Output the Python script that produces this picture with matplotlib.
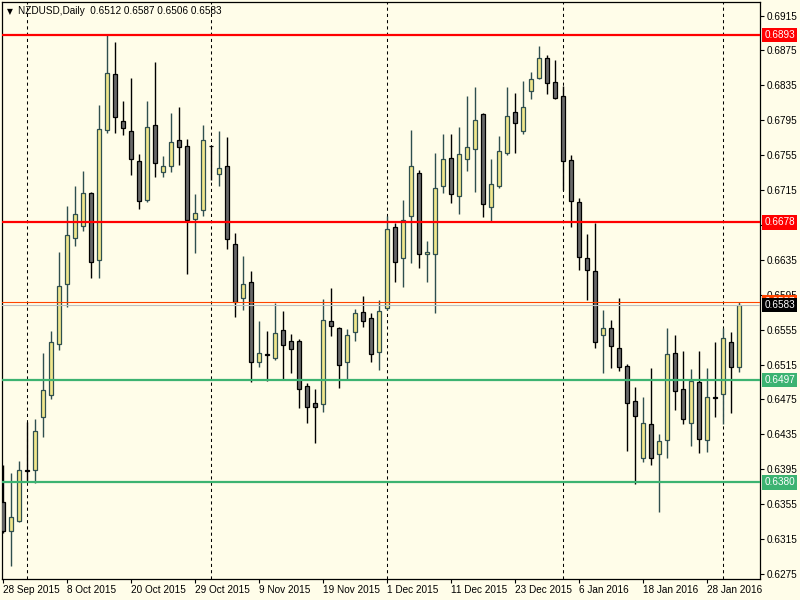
import matplotlib
matplotlib.use("Agg")
import matplotlib.pyplot as plt
from matplotlib.patches import Rectangle

# ---------------- data ----------------
opens = [0.6358, 0.6324, 0.6336, 0.6394, 0.6394, 0.6455, 0.6480, 0.6539, 0.6607, 0.6660,
         0.6674, 0.6712, 0.6635, 0.6784, 0.6848, 0.6794, 0.6783, 0.6748, 0.6704, 0.6790,
         0.6736, 0.6743, 0.6772, 0.6766, 0.6682, 0.6692, 0.6766, 0.6733, 0.6743, 0.6653,
         0.6591, 0.6610, 0.6518, 0.6527, 0.6523, 0.6555, 0.6542, 0.6542, 0.6490, 0.6471,
         0.6470, 0.6565, 0.6557, 0.6518, 0.6552, 0.6575, 0.6568, 0.6529, 0.6580, 0.6673,
         0.6637, 0.6685, 0.6735, 0.6642, 0.6642, 0.6720, 0.6752, 0.6708, 0.6751, 0.6762,
         0.6802, 0.6696, 0.6720, 0.6758, 0.6804, 0.6783, 0.6829, 0.6843, 0.6866, 0.6839,
         0.6823, 0.6749, 0.6701, 0.6637, 0.6622, 0.6549, 0.6557, 0.6534, 0.6513, 0.6473,
         0.6408, 0.6447, 0.6413, 0.6429, 0.6528, 0.6487, 0.6448, 0.6495, 0.6429, 0.6478,
         0.6481, 0.6541, 0.6512]
highs = [0.6400, 0.6391, 0.6404, 0.6449, 0.6453, 0.6528, 0.6554, 0.6644, 0.6697, 0.6720,
         0.6737, 0.6713, 0.6812, 0.6894, 0.6885, 0.6817, 0.6843, 0.6756, 0.6817, 0.6862,
         0.6754, 0.6803, 0.6810, 0.6774, 0.6710, 0.6790, 0.6766, 0.6783, 0.6776, 0.6666,
         0.6639, 0.6622, 0.6565, 0.6554, 0.6586, 0.6576, 0.6550, 0.6544, 0.6494, 0.6487,
         0.6590, 0.6603, 0.6558, 0.6556, 0.6579, 0.6594, 0.6574, 0.6589, 0.6685, 0.6677,
         0.6704, 0.6784, 0.6738, 0.6657, 0.6757, 0.6779, 0.6779, 0.6787, 0.6823, 0.6833,
         0.6803, 0.6751, 0.6777, 0.6833, 0.6826, 0.6840, 0.6850, 0.6880, 0.6870, 0.6864,
         0.6834, 0.6755, 0.6706, 0.6665, 0.6677, 0.6578, 0.6566, 0.6591, 0.6516, 0.6489,
         0.6478, 0.6511, 0.6435, 0.6557, 0.6549, 0.6531, 0.6510, 0.6530, 0.6511, 0.6541,
         0.6557, 0.6552, 0.6587]
lows = [0.6322, 0.6284, 0.6335, 0.6380, 0.6379, 0.6432, 0.6476, 0.6532, 0.6581, 0.6651,
        0.6668, 0.6614, 0.6614, 0.6780, 0.6780, 0.6778, 0.6732, 0.6693, 0.6701, 0.6730,
        0.6730, 0.6736, 0.6744, 0.6619, 0.6643, 0.6685, 0.6727, 0.6720, 0.6647, 0.6570,
        0.6578, 0.6495, 0.6512, 0.6496, 0.6520, 0.6497, 0.6505, 0.6465, 0.6448, 0.6425,
        0.6461, 0.6548, 0.6488, 0.6498, 0.6542, 0.6558, 0.6518, 0.6509, 0.6578, 0.6610,
        0.6604, 0.6631, 0.6626, 0.6610, 0.6574, 0.6712, 0.6700, 0.6688, 0.6737, 0.6713,
        0.6684, 0.6678, 0.6717, 0.6755, 0.6758, 0.6779, 0.6819, 0.6842, 0.6825, 0.6819,
        0.6715, 0.6673, 0.6623, 0.6589, 0.6534, 0.6505, 0.6511, 0.6508, 0.6416, 0.6378,
        0.6403, 0.6400, 0.6346, 0.6408, 0.6463, 0.6447, 0.6422, 0.6414, 0.6415, 0.6455,
        0.6447, 0.6460, 0.6506]
closes = [0.6324, 0.6340, 0.6394, 0.6393, 0.6439, 0.6486, 0.6541, 0.6605, 0.6664, 0.6688,
          0.6712, 0.6633, 0.6785, 0.6849, 0.6799, 0.6786, 0.6751, 0.6702, 0.6787, 0.6746,
          0.6743, 0.6770, 0.6764, 0.6681, 0.6689, 0.6772, 0.6765, 0.6740, 0.6659, 0.6587,
          0.6607, 0.6518, 0.6528, 0.6526, 0.6551, 0.6537, 0.6533, 0.6487, 0.6466, 0.6466,
          0.6566, 0.6559, 0.6514, 0.6549, 0.6574, 0.6565, 0.6527, 0.6576, 0.6670, 0.6633,
          0.6681, 0.6743, 0.6642, 0.6644, 0.6717, 0.6751, 0.6710, 0.6756, 0.6764, 0.6795,
          0.6699, 0.6722, 0.6760, 0.6800, 0.6792, 0.6810, 0.6842, 0.6866, 0.6838, 0.6820,
          0.6748, 0.6702, 0.6638, 0.6623, 0.6541, 0.6557, 0.6536, 0.6512, 0.6471, 0.6456,
          0.6448, 0.6408, 0.6427, 0.6527, 0.6485, 0.6453, 0.6496, 0.6430, 0.6478, 0.6477,
          0.6546, 0.6512, 0.6583]

date_tick_positions = [0, 8, 16, 24, 32, 40, 48, 56, 64, 72, 80, 88]
date_tick_labels = ["28 Sep 2015", "8 Oct 2015", "20 Oct 2015", "29 Oct 2015",
                    "9 Nov 2015", "19 Nov 2015", "1 Dec 2015", "11 Dec 2015",
                    "23 Dec 2015", "6 Jan 2016", "18 Jan 2016", "28 Jan 2016"]
period_separators = [3, 26, 48, 70, 90]
price_ticks = [0.6275, 0.6315, 0.6355, 0.6395, 0.6435, 0.6475, 0.6515, 0.6555,
               0.6595, 0.6635, 0.6675, 0.6715, 0.6755, 0.6795, 0.6835, 0.6875, 0.6915]
resistance_levels = [0.6893, 0.6678]
support_levels = [0.6497, 0.6380]
ask_price = 0.6587
bid_price = 0.6583
title_text = "NZDUSD,Daily  0.6512 0.6587 0.6506 0.6583"

# ---------------- style ----------------
BG = "#FFFDE9"
BULL_FILL = "#F0E68C"
BULL_EDGE = "#2F4F4F"
BEAR_FILL = "#696969"
BEAR_EDGE = "#000000"
FONT = ["Liberation Sans", "DejaVu Sans"]
plt.rcParams["font.family"] = FONT

fig = plt.figure(figsize=(8, 6), dpi=100, facecolor=BG)
ax = fig.add_axes([2 / 800, 21 / 600, 758 / 800, 577 / 600])
ax.set_facecolor(BG)

n = len(opens)
body_w = 0.6
for i in range(n):
    o, h, l, c = opens[i], highs[i], lows[i], closes[i]
    bull = c >= o
    edge = BULL_EDGE if bull else BEAR_EDGE
    fill = BULL_FILL if bull else BEAR_FILL
    ax.vlines(i, l, h, color=edge, lw=1.0, zorder=2)
    lo_b, hi_b = min(o, c), max(o, c)
    ax.add_patch(Rectangle((i - body_w / 2, lo_b), body_w, max(hi_b - lo_b, 0.00001),
                           facecolor=fill, edgecolor=edge, lw=0.9, zorder=3))

for s in period_separators:
    ax.axvline(s, color="black", lw=0.75, ls=(0, (3, 3)), zorder=1)

for lvl in resistance_levels:
    ax.axhline(lvl, color="#FF0000", lw=1.6, zorder=4)
for lvl in support_levels:
    ax.axhline(lvl, color="#3CB371", lw=1.6, zorder=4)
ax.axhline(ask_price, color="#FF4500", lw=0.8, zorder=4)
ax.axhline(bid_price, color="#C0C0C0", lw=0.8, zorder=4)

ax.set_xlim(-0.125, 94.625)
ax.set_ylim(0.62693, 0.69305)

ax.yaxis.tick_right()
ax.set_yticks(price_ticks)
ax.set_yticklabels([f"{p:.4f}" for p in price_ticks])
ax.tick_params(axis="y", direction="out", length=3, width=0.8, pad=1.5, labelsize=7.2,
               colors="black")
ax.set_xticks(date_tick_positions)
ax.set_xticklabels(date_tick_labels)
ax.tick_params(axis="x", direction="out", length=3, width=0.8, pad=1.5, labelsize=7.2,
               colors="black")
for lbl in ax.get_xticklabels():
    lbl.set_ha("left")

for sp in ax.spines.values():
    sp.set_color("black")
    sp.set_linewidth(0.9)


def price_box(price, text, fc, z):
    ax.annotate(text, xy=(1.0, price), xycoords=("axes fraction", "data"),
                xytext=(3.0, 0), textcoords="offset points", ha="left", va="center",
                fontsize=7.2, color="white", annotation_clip=False, zorder=z,
                bbox=dict(boxstyle="square,pad=0.22", fc=fc, ec="none"))


for lvl in resistance_levels:
    price_box(lvl, f"{lvl:.4f}", "#FF0000", 6)
for lvl in support_levels:
    price_box(lvl, f"{lvl:.4f}", "#3CB371", 6)
price_box(ask_price, f"{ask_price:.4f}", "#FF4500", 6)
price_box(bid_price, f"{bid_price:.4f}", "#000000", 7)

ax.text(0.006, 0.9915, "\u25BC", transform=ax.transAxes, fontsize=5.5, ha="left",
        va="top", color="black", family="DejaVu Sans", zorder=8)
ax.text(0.021, 0.993, title_text, transform=ax.transAxes, fontsize=7.2, ha="left",
        va="top", color="black", zorder=8)

fig.savefig("out.png", dpi=100, facecolor=BG)
